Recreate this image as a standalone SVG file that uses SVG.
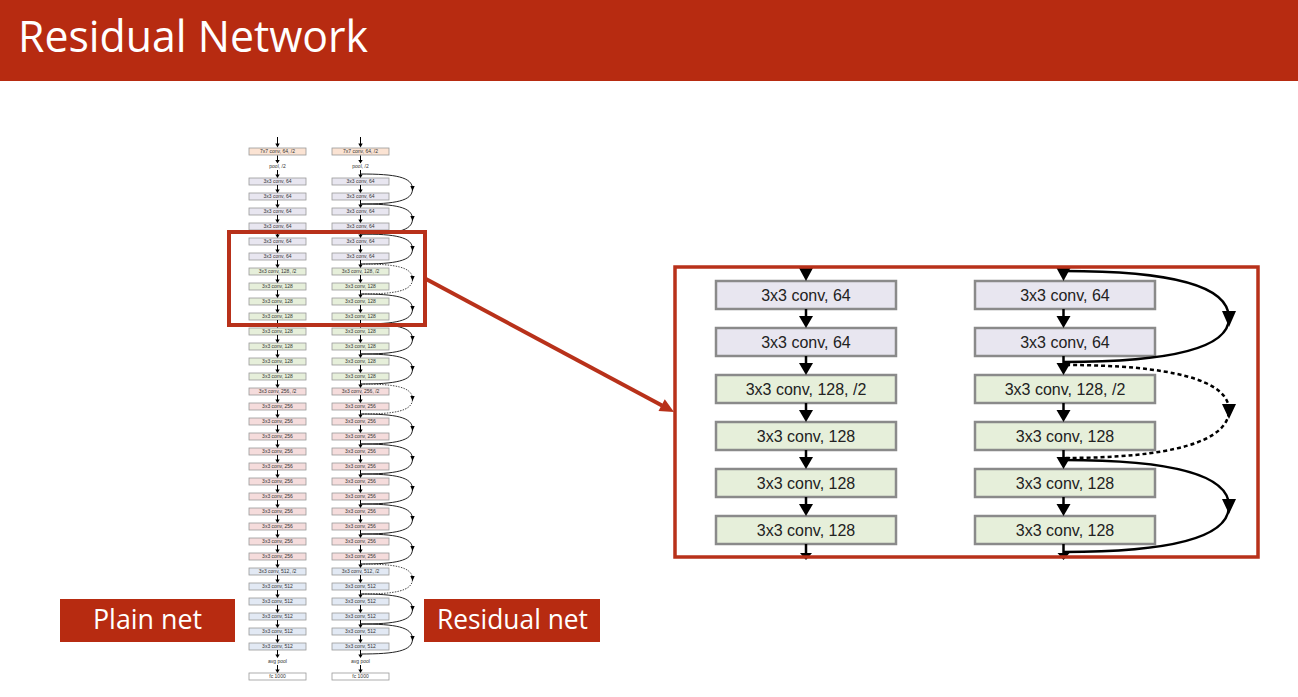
<svg xmlns="http://www.w3.org/2000/svg" xmlns:xlink="http://www.w3.org/1999/xlink" width="1298" height="697" viewBox="0 0 1298 697">
<style>
.sb{stroke:#9a9a9a;stroke-width:0.8}
.st{font-family:"Liberation Sans",Arial,sans-serif;font-size:5px;fill:#333;text-anchor:middle}
.peach{fill:#fbe3d3}.lav{fill:#e8e6f0}.grn{fill:#e6efda}.pnk{fill:#f5dcdc}.blu{fill:#e2e9f4}.wht{fill:#fff}
.bb{stroke:#8a8a8a;stroke-width:2.5}
.bt{font-family:"Liberation Sans",Arial,sans-serif;font-size:16px;fill:#222;text-anchor:middle}
.ln{stroke:#000;fill:none}
.red{stroke:#b8311a;fill:none}
.lbl{fill:#b72b11}
.lt{font-family:"Open Sans","Liberation Sans",sans-serif;fill:#fff}
</style>
<defs>
<g id="sa"><line x1="0" y1="0" x2="0" y2="5.5" stroke="#000" stroke-width="1"/><path d="M-2.2 4.5 L2.2 4.5 L0 8 Z" fill="#000"/></g>
<g id="sk"><path d="M0 0 C35 0 52 3 52 15 C52 27 35 30 0 30" stroke="#222" stroke-width="1" fill="none"/><path d="M49.8 12 L54.2 12 L52 17 Z" fill="#000"/></g>
<g id="skd"><path d="M0 0 C35 0 52 3 52 15 C52 27 35 30 0 30" stroke="#333" stroke-width="0.9" stroke-dasharray="1.5 1.2" fill="none"/><path d="M49.8 12 L54.2 12 L52 17 Z" fill="#000"/></g>
<g id="ba"><line x1="0" y1="0" x2="0" y2="9" stroke="#000" stroke-width="2.5"/><path d="M-7 7 L7 7 L0 19 Z" fill="#000"/></g>
</defs>

<rect x="0" y="0" width="1298" height="81" fill="#b72b11"/>
<text x="18" y="52" class="lt" font-size="44" textLength="350" lengthAdjust="spacingAndGlyphs">Residual Network</text>

<g id="plain-net">
<rect class="sb peach" x="249" y="148" width="57" height="7"/><text class="st" x="277.5" y="153.3">7x7 conv, 64, /2</text>
<text class="st" x="277.5" y="168.3">pool, /2</text>
<rect class="sb lav" x="249" y="178" width="57" height="7"/><text class="st" x="277.5" y="183.3">3x3 conv, 64</text>
<rect class="sb lav" x="249" y="193" width="57" height="7"/><text class="st" x="277.5" y="198.3">3x3 conv, 64</text>
<rect class="sb lav" x="249" y="208" width="57" height="7"/><text class="st" x="277.5" y="213.3">3x3 conv, 64</text>
<rect class="sb lav" x="249" y="223" width="57" height="7"/><text class="st" x="277.5" y="228.3">3x3 conv, 64</text>
<rect class="sb lav" x="249" y="238" width="57" height="7"/><text class="st" x="277.5" y="243.3">3x3 conv, 64</text>
<rect class="sb lav" x="249" y="253" width="57" height="7"/><text class="st" x="277.5" y="258.3">3x3 conv, 64</text>
<rect class="sb grn" x="249" y="268" width="57" height="7"/><text class="st" x="277.5" y="273.3">3x3 conv, 128, /2</text>
<rect class="sb grn" x="249" y="283" width="57" height="7"/><text class="st" x="277.5" y="288.3">3x3 conv, 128</text>
<rect class="sb grn" x="249" y="298" width="57" height="7"/><text class="st" x="277.5" y="303.3">3x3 conv, 128</text>
<rect class="sb grn" x="249" y="313" width="57" height="7"/><text class="st" x="277.5" y="318.3">3x3 conv, 128</text>
<rect class="sb grn" x="249" y="328" width="57" height="7"/><text class="st" x="277.5" y="333.3">3x3 conv, 128</text>
<rect class="sb grn" x="249" y="343" width="57" height="7"/><text class="st" x="277.5" y="348.3">3x3 conv, 128</text>
<rect class="sb grn" x="249" y="358" width="57" height="7"/><text class="st" x="277.5" y="363.3">3x3 conv, 128</text>
<rect class="sb grn" x="249" y="373" width="57" height="7"/><text class="st" x="277.5" y="378.3">3x3 conv, 128</text>
<rect class="sb pnk" x="249" y="388" width="57" height="7"/><text class="st" x="277.5" y="393.3">3x3 conv, 256, /2</text>
<rect class="sb pnk" x="249" y="403" width="57" height="7"/><text class="st" x="277.5" y="408.3">3x3 conv, 256</text>
<rect class="sb pnk" x="249" y="418" width="57" height="7"/><text class="st" x="277.5" y="423.3">3x3 conv, 256</text>
<rect class="sb pnk" x="249" y="433" width="57" height="7"/><text class="st" x="277.5" y="438.3">3x3 conv, 256</text>
<rect class="sb pnk" x="249" y="448" width="57" height="7"/><text class="st" x="277.5" y="453.3">3x3 conv, 256</text>
<rect class="sb pnk" x="249" y="463" width="57" height="7"/><text class="st" x="277.5" y="468.3">3x3 conv, 256</text>
<rect class="sb pnk" x="249" y="478" width="57" height="7"/><text class="st" x="277.5" y="483.3">3x3 conv, 256</text>
<rect class="sb pnk" x="249" y="493" width="57" height="7"/><text class="st" x="277.5" y="498.3">3x3 conv, 256</text>
<rect class="sb pnk" x="249" y="508" width="57" height="7"/><text class="st" x="277.5" y="513.3">3x3 conv, 256</text>
<rect class="sb pnk" x="249" y="523" width="57" height="7"/><text class="st" x="277.5" y="528.3">3x3 conv, 256</text>
<rect class="sb pnk" x="249" y="538" width="57" height="7"/><text class="st" x="277.5" y="543.3">3x3 conv, 256</text>
<rect class="sb pnk" x="249" y="553" width="57" height="7"/><text class="st" x="277.5" y="558.3">3x3 conv, 256</text>
<rect class="sb blu" x="249" y="568" width="57" height="7"/><text class="st" x="277.5" y="573.3">3x3 conv, 512, /2</text>
<rect class="sb blu" x="249" y="583" width="57" height="7"/><text class="st" x="277.5" y="588.3">3x3 conv, 512</text>
<rect class="sb blu" x="249" y="598" width="57" height="7"/><text class="st" x="277.5" y="603.3">3x3 conv, 512</text>
<rect class="sb blu" x="249" y="613" width="57" height="7"/><text class="st" x="277.5" y="618.3">3x3 conv, 512</text>
<rect class="sb blu" x="249" y="628" width="57" height="7"/><text class="st" x="277.5" y="633.3">3x3 conv, 512</text>
<rect class="sb blu" x="249" y="643" width="57" height="7"/><text class="st" x="277.5" y="648.3">3x3 conv, 512</text>
<text class="st" x="277.5" y="663.3">avg pool</text>
<rect class="sb wht" x="249" y="673" width="57" height="7"/><text class="st" x="277.5" y="678.3">fc 1000</text>
</g>

<g id="residual-net">
<rect class="sb peach" x="332" y="148" width="57" height="7"/><text class="st" x="360.5" y="153.3">7x7 conv, 64, /2</text>
<text class="st" x="360.5" y="168.3">pool, /2</text>
<rect class="sb lav" x="332" y="178" width="57" height="7"/><text class="st" x="360.5" y="183.3">3x3 conv, 64</text>
<rect class="sb lav" x="332" y="193" width="57" height="7"/><text class="st" x="360.5" y="198.3">3x3 conv, 64</text>
<rect class="sb lav" x="332" y="208" width="57" height="7"/><text class="st" x="360.5" y="213.3">3x3 conv, 64</text>
<rect class="sb lav" x="332" y="223" width="57" height="7"/><text class="st" x="360.5" y="228.3">3x3 conv, 64</text>
<rect class="sb lav" x="332" y="238" width="57" height="7"/><text class="st" x="360.5" y="243.3">3x3 conv, 64</text>
<rect class="sb lav" x="332" y="253" width="57" height="7"/><text class="st" x="360.5" y="258.3">3x3 conv, 64</text>
<rect class="sb grn" x="332" y="268" width="57" height="7"/><text class="st" x="360.5" y="273.3">3x3 conv, 128, /2</text>
<rect class="sb grn" x="332" y="283" width="57" height="7"/><text class="st" x="360.5" y="288.3">3x3 conv, 128</text>
<rect class="sb grn" x="332" y="298" width="57" height="7"/><text class="st" x="360.5" y="303.3">3x3 conv, 128</text>
<rect class="sb grn" x="332" y="313" width="57" height="7"/><text class="st" x="360.5" y="318.3">3x3 conv, 128</text>
<rect class="sb grn" x="332" y="328" width="57" height="7"/><text class="st" x="360.5" y="333.3">3x3 conv, 128</text>
<rect class="sb grn" x="332" y="343" width="57" height="7"/><text class="st" x="360.5" y="348.3">3x3 conv, 128</text>
<rect class="sb grn" x="332" y="358" width="57" height="7"/><text class="st" x="360.5" y="363.3">3x3 conv, 128</text>
<rect class="sb grn" x="332" y="373" width="57" height="7"/><text class="st" x="360.5" y="378.3">3x3 conv, 128</text>
<rect class="sb pnk" x="332" y="388" width="57" height="7"/><text class="st" x="360.5" y="393.3">3x3 conv, 256, /2</text>
<rect class="sb pnk" x="332" y="403" width="57" height="7"/><text class="st" x="360.5" y="408.3">3x3 conv, 256</text>
<rect class="sb pnk" x="332" y="418" width="57" height="7"/><text class="st" x="360.5" y="423.3">3x3 conv, 256</text>
<rect class="sb pnk" x="332" y="433" width="57" height="7"/><text class="st" x="360.5" y="438.3">3x3 conv, 256</text>
<rect class="sb pnk" x="332" y="448" width="57" height="7"/><text class="st" x="360.5" y="453.3">3x3 conv, 256</text>
<rect class="sb pnk" x="332" y="463" width="57" height="7"/><text class="st" x="360.5" y="468.3">3x3 conv, 256</text>
<rect class="sb pnk" x="332" y="478" width="57" height="7"/><text class="st" x="360.5" y="483.3">3x3 conv, 256</text>
<rect class="sb pnk" x="332" y="493" width="57" height="7"/><text class="st" x="360.5" y="498.3">3x3 conv, 256</text>
<rect class="sb pnk" x="332" y="508" width="57" height="7"/><text class="st" x="360.5" y="513.3">3x3 conv, 256</text>
<rect class="sb pnk" x="332" y="523" width="57" height="7"/><text class="st" x="360.5" y="528.3">3x3 conv, 256</text>
<rect class="sb pnk" x="332" y="538" width="57" height="7"/><text class="st" x="360.5" y="543.3">3x3 conv, 256</text>
<rect class="sb pnk" x="332" y="553" width="57" height="7"/><text class="st" x="360.5" y="558.3">3x3 conv, 256</text>
<rect class="sb blu" x="332" y="568" width="57" height="7"/><text class="st" x="360.5" y="573.3">3x3 conv, 512, /2</text>
<rect class="sb blu" x="332" y="583" width="57" height="7"/><text class="st" x="360.5" y="588.3">3x3 conv, 512</text>
<rect class="sb blu" x="332" y="598" width="57" height="7"/><text class="st" x="360.5" y="603.3">3x3 conv, 512</text>
<rect class="sb blu" x="332" y="613" width="57" height="7"/><text class="st" x="360.5" y="618.3">3x3 conv, 512</text>
<rect class="sb blu" x="332" y="628" width="57" height="7"/><text class="st" x="360.5" y="633.3">3x3 conv, 512</text>
<rect class="sb blu" x="332" y="643" width="57" height="7"/><text class="st" x="360.5" y="648.3">3x3 conv, 512</text>
<text class="st" x="360.5" y="663.3">avg pool</text>
<rect class="sb wht" x="332" y="673" width="57" height="7"/><text class="st" x="360.5" y="678.3">fc 1000</text>
</g>

<g id="small-connectors">
<line x1="277.5" y1="137" x2="277.5" y2="144" stroke="#000" stroke-width="1"/><path d="M275.3 143.5 L279.7 143.5 L277.5 147.5 Z"/>
<line x1="360.5" y1="137" x2="360.5" y2="144" stroke="#000" stroke-width="1"/><path d="M358.3 143.5 L362.7 143.5 L360.5 147.5 Z"/>
<use href="#sa" x="277.5" y="155.5"/><use href="#sa" x="277.5" y="170"/><use href="#sa" x="277.5" y="185"/><use href="#sa" x="277.5" y="200"/><use href="#sa" x="277.5" y="215"/><use href="#sa" x="277.5" y="230"/><use href="#sa" x="277.5" y="245"/><use href="#sa" x="277.5" y="260"/><use href="#sa" x="277.5" y="275"/><use href="#sa" x="277.5" y="290"/><use href="#sa" x="277.5" y="305"/><use href="#sa" x="277.5" y="320"/><use href="#sa" x="277.5" y="335"/><use href="#sa" x="277.5" y="350"/><use href="#sa" x="277.5" y="365"/><use href="#sa" x="277.5" y="380"/><use href="#sa" x="277.5" y="395"/><use href="#sa" x="277.5" y="410"/><use href="#sa" x="277.5" y="425"/><use href="#sa" x="277.5" y="440"/><use href="#sa" x="277.5" y="455"/><use href="#sa" x="277.5" y="470"/><use href="#sa" x="277.5" y="485"/><use href="#sa" x="277.5" y="500"/><use href="#sa" x="277.5" y="515"/><use href="#sa" x="277.5" y="530"/><use href="#sa" x="277.5" y="545"/><use href="#sa" x="277.5" y="560"/><use href="#sa" x="277.5" y="575"/><use href="#sa" x="277.5" y="590"/><use href="#sa" x="277.5" y="605"/><use href="#sa" x="277.5" y="620"/><use href="#sa" x="277.5" y="635"/><use href="#sa" x="277.5" y="650"/><use href="#sa" x="277.5" y="665"/>
<use href="#sa" x="360.5" y="155.5"/><use href="#sa" x="360.5" y="170"/><use href="#sa" x="360.5" y="185"/><use href="#sa" x="360.5" y="200"/><use href="#sa" x="360.5" y="215"/><use href="#sa" x="360.5" y="230"/><use href="#sa" x="360.5" y="245"/><use href="#sa" x="360.5" y="260"/><use href="#sa" x="360.5" y="275"/><use href="#sa" x="360.5" y="290"/><use href="#sa" x="360.5" y="305"/><use href="#sa" x="360.5" y="320"/><use href="#sa" x="360.5" y="335"/><use href="#sa" x="360.5" y="350"/><use href="#sa" x="360.5" y="365"/><use href="#sa" x="360.5" y="380"/><use href="#sa" x="360.5" y="395"/><use href="#sa" x="360.5" y="410"/><use href="#sa" x="360.5" y="425"/><use href="#sa" x="360.5" y="440"/><use href="#sa" x="360.5" y="455"/><use href="#sa" x="360.5" y="470"/><use href="#sa" x="360.5" y="485"/><use href="#sa" x="360.5" y="500"/><use href="#sa" x="360.5" y="515"/><use href="#sa" x="360.5" y="530"/><use href="#sa" x="360.5" y="545"/><use href="#sa" x="360.5" y="560"/><use href="#sa" x="360.5" y="575"/><use href="#sa" x="360.5" y="590"/><use href="#sa" x="360.5" y="605"/><use href="#sa" x="360.5" y="620"/><use href="#sa" x="360.5" y="635"/><use href="#sa" x="360.5" y="650"/><use href="#sa" x="360.5" y="665"/>
<use href="#sk" x="360.5" y="174"/><use href="#sk" x="360.5" y="204"/><use href="#sk" x="360.5" y="234"/>
<use href="#skd" x="360.5" y="264"/><use href="#sk" x="360.5" y="294"/><use href="#sk" x="360.5" y="324"/><use href="#sk" x="360.5" y="354"/>
<use href="#skd" x="360.5" y="384"/><use href="#sk" x="360.5" y="414"/><use href="#sk" x="360.5" y="444"/><use href="#sk" x="360.5" y="474"/><use href="#sk" x="360.5" y="504"/><use href="#sk" x="360.5" y="534"/>
<use href="#skd" x="360.5" y="564"/><use href="#sk" x="360.5" y="594"/><use href="#sk" x="360.5" y="624"/>
</g>

<g id="highlight">
<rect class="red" x="229" y="232" width="196" height="93" stroke-width="4"/>
<line x1="426" y1="279" x2="662" y2="405.5" stroke="#b8311a" stroke-width="4"/>
<path d="M674 412 L658.5 411 L664.8 399.3 Z" fill="#b8311a"/>
</g>

<g id="zoom-plain">
<rect class="bb lav" x="716" y="281" width="180" height="28"/><text class="bt" x="806" y="300.5">3x3 conv, 64</text>
<rect class="bb lav" x="716" y="328" width="180" height="28"/><text class="bt" x="806" y="347.5">3x3 conv, 64</text>
<rect class="bb grn" x="716" y="375" width="180" height="28"/><text class="bt" x="806" y="394.5">3x3 conv, 128, /2</text>
<rect class="bb grn" x="716" y="422" width="180" height="28"/><text class="bt" x="806" y="441.5">3x3 conv, 128</text>
<rect class="bb grn" x="716" y="469" width="180" height="28"/><text class="bt" x="806" y="488.5">3x3 conv, 128</text>
<rect class="bb grn" x="716" y="516" width="180" height="28"/><text class="bt" x="806" y="535.5">3x3 conv, 128</text>
</g>

<g id="zoom-residual">
<rect class="bb lav" x="975" y="281" width="180" height="28"/><text class="bt" x="1065" y="300.5">3x3 conv, 64</text>
<rect class="bb lav" x="975" y="328" width="180" height="28"/><text class="bt" x="1065" y="347.5">3x3 conv, 64</text>
<rect class="bb grn" x="975" y="375" width="180" height="28"/><text class="bt" x="1065" y="394.5">3x3 conv, 128, /2</text>
<rect class="bb grn" x="975" y="422" width="180" height="28"/><text class="bt" x="1065" y="441.5">3x3 conv, 128</text>
<rect class="bb grn" x="975" y="469" width="180" height="28"/><text class="bt" x="1065" y="488.5">3x3 conv, 128</text>
<rect class="bb grn" x="975" y="516" width="180" height="28"/><text class="bt" x="1065" y="535.5">3x3 conv, 128</text>
</g>

<g id="zoom-connectors">
<path d="M799 268 L813 268 L806 281 Z"/><path d="M1056.5 268 L1070.5 268 L1063.5 281 Z"/>
<use href="#ba" x="806" y="309"/><use href="#ba" x="806" y="356"/><use href="#ba" x="806" y="403"/><use href="#ba" x="806" y="450"/><use href="#ba" x="806" y="497"/>
<use href="#ba" x="1063.5" y="309"/><use href="#ba" x="1063.5" y="356"/><use href="#ba" x="1063.5" y="403"/><use href="#ba" x="1063.5" y="450"/><use href="#ba" x="1063.5" y="497"/>
<line x1="806" y1="544" x2="806" y2="556" stroke="#000" stroke-width="2.5"/><path d="M800 553 L812 553 L806 560 Z"/>
<line x1="1063.5" y1="544" x2="1063.5" y2="556" stroke="#000" stroke-width="2.5"/><path d="M1057.5 553 L1069.5 553 L1063.5 560 Z"/>
<path class="ln" stroke-width="2.5" d="M1063.5 271 C1170 271 1229 285 1229 318 C1229 348 1170 362 1063.5 362"/>
<path d="M1222 311 L1236 311 L1229 327 Z"/>
<path class="ln" stroke-width="2.5" stroke-dasharray="4 3" d="M1066 365 C1170 365 1229 380 1229 410 C1229 442 1170 458 1063.5 458"/>
<path d="M1222 404 L1236 404 L1229 419 Z"/>
<path class="ln" stroke-width="2.5" d="M1063.5 460 C1170 460 1229 474 1229 506 C1229 538 1170 552 1063.5 552"/>
<path d="M1222 499 L1236 499 L1229 514 Z"/>
</g>

<rect class="red" x="675" y="267" width="583" height="290" stroke-width="3.5"/>

<g id="label-plain">
<rect class="lbl" x="60" y="599" width="175" height="43"/>
<text class="lt" x="93" y="629" font-size="27" textLength="109" lengthAdjust="spacingAndGlyphs">Plain net</text>
</g>
<g id="label-residual">
<rect class="lbl" x="424" y="599" width="176" height="43"/>
<text class="lt" x="437" y="629" font-size="27" textLength="151" lengthAdjust="spacingAndGlyphs">Residual net</text>
</g>
</svg>
